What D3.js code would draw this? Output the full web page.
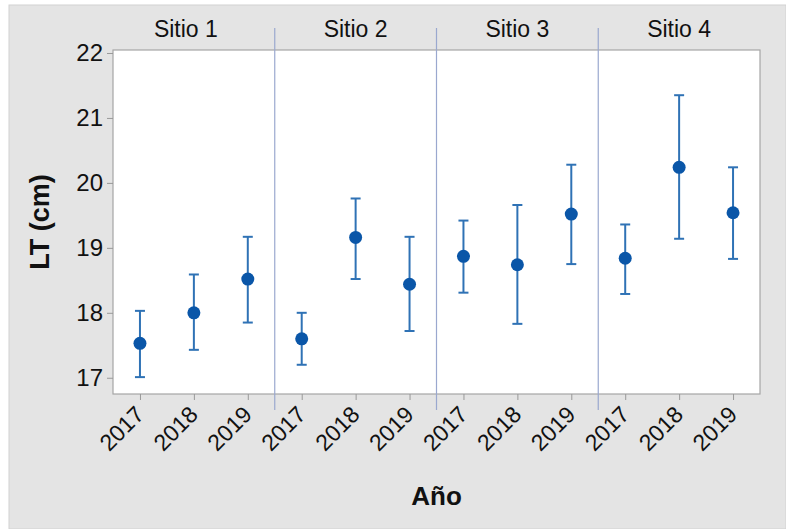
<!DOCTYPE html>
<html><head><meta charset="utf-8">
<script src="https://cdn.jsdelivr.net/npm/d3@7"></script>
<style>body{margin:0;background:#fff}svg{display:block}text{font-family:"Liberation Sans",Arial,sans-serif;fill:#111}</style>
</head><body><svg id="c" width="786" height="529"></svg>
<script>
const sites = ["Sitio 1","Sitio 2","Sitio 3","Sitio 4"];
const years = ["2017","2018","2019"];
// mean, lower, upper per site (rows) and year (columns)
const means = [[17.53,18.00,18.52],[17.60,19.16,18.44],[18.87,18.74,19.52],[18.84,20.24,19.54]];
const lows  = [[17.01,17.43,17.85],[17.20,18.52,17.72],[18.31,17.83,18.75],[18.29,19.14,18.83]];
const highs = [[18.03,18.59,19.17],[18.00,19.76,19.17],[19.42,19.66,20.28],[19.36,21.35,20.24]];
const yTicks = [17,18,19,20,21,22];

const svg = d3.select("#c");
const L=113, R=760, T=50, B=394;
svg.append("rect").attr("x",9).attr("y",5).attr("width",786-9).attr("height",529-5)
  .attr("fill","#e4e4e4").attr("stroke","#d2d2d2");

const keys = [];
sites.forEach((s,i)=>years.forEach((y,j)=>keys.push(i+"_"+j)));
const x = d3.scalePoint().domain(keys).range([L,R]).padding(0.5);
const yS = d3.scaleLinear().domain([16.75,22.046]).range([B,T]);

svg.append("rect").attr("x",L).attr("y",T).attr("width",R-L).attr("height",B-T)
  .attr("fill","#fff").attr("stroke","#a6a6a6").attr("stroke-width",1.2);

// y axis
const ya = svg.append("g").attr("transform",`translate(${L},0)`)
  .call(d3.axisLeft(yS).tickValues(yTicks).tickSize(6).tickPadding(4).tickFormat(d3.format("d")));
ya.select(".domain").remove();
ya.selectAll(".tick line").attr("stroke","#999");
ya.selectAll(".tick text").attr("font-size",24).attr("fill","#222");

// x axis
const xa = svg.append("g").attr("transform",`translate(0,${B})`)
  .call(d3.axisBottom(x).tickSize(6).tickFormat(k=>years[+k.split("_")[1]]));
xa.select(".domain").remove();
xa.selectAll(".tick line").attr("stroke","#999");
xa.selectAll(".tick text").attr("font-size",23).attr("fill","#222")
  .attr("text-anchor","end").attr("dy",0).attr("y",0)
  .attr("transform","translate(5,22) rotate(-45)");

// separators and site labels
for(let i=0;i<sites.length;i++){
  if(i>0){
    const sx=(x(i-1+"_2")+x(i+"_0"))/2;
    svg.append("line").attr("x1",sx).attr("x2",sx).attr("y1",28).attr("y2",410)
      .attr("stroke","#9aa8cf").attr("stroke-width",1.2);
  }
  svg.append("text").attr("x",x(i+"_1")-(i===0?8:0)).attr("y",37).attr("text-anchor","middle")
    .attr("font-size",23).text(sites[i]);
}

// data
const data=[];
sites.forEach((s,i)=>years.forEach((y,j)=>data.push({k:i+"_"+j,m:means[i][j],lo:lows[i][j],hi:highs[i][j]})));
const g=svg.append("g");
const eb="#2f72b5";
g.selectAll(".v").data(data).join("line").attr("x1",d=>x(d.k)).attr("x2",d=>x(d.k))
  .attr("y1",d=>yS(d.lo)).attr("y2",d=>yS(d.hi)).attr("stroke",eb).attr("stroke-width",2);
["lo","hi"].forEach(f=>g.selectAll(".c"+f).data(data).join("line")
  .attr("x1",d=>x(d.k)-5).attr("x2",d=>x(d.k)+5).attr("y1",d=>yS(d[f])).attr("y2",d=>yS(d[f]))
  .attr("stroke",eb).attr("stroke-width",2));
g.selectAll("circle").data(data).join("circle").attr("cx",d=>x(d.k)).attr("cy",d=>yS(d.m))
  .attr("r",6.5).attr("fill","#0a56a8");

svg.append("text").attr("transform",`translate(49,${(T+B)/2}) rotate(-90)`).attr("text-anchor","middle")
  .attr("font-size",27).attr("font-weight","bold").text("LT (cm)");
svg.append("text").attr("x",(L+R)/2).attr("y",505).attr("text-anchor","middle")
  .attr("font-size",26).attr("font-weight","bold").text("Año");
</script></body></html>
